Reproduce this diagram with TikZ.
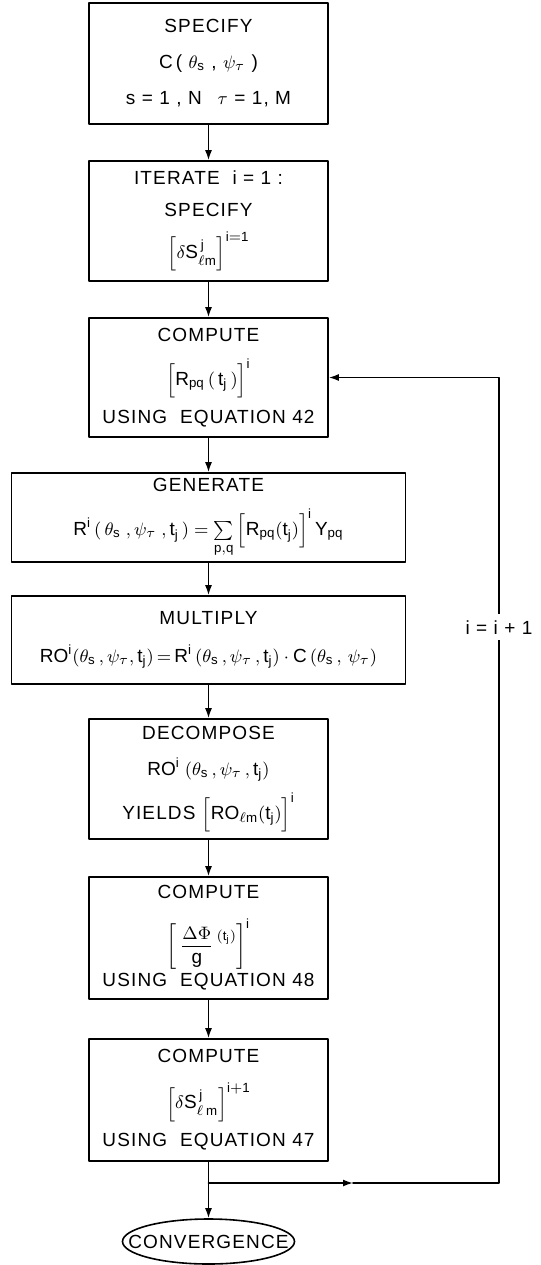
\documentclass[tikz,border=0pt]{standalone}
\usepackage{amsmath,amssymb}
\usepackage{fontspec}
\setmainfont{Liberation Sans}[LetterSpace=6]
\usepackage{tikz}
\usetikzlibrary{arrows.meta,shapes.geometric}

\begin{document}
\begin{tikzpicture}[line cap=round,line join=round,>={Latex[length=5pt,width=3.5pt]},x=0.5pt,y=-0.5pt,line width=0.8pt,
        every node/.style={font=\fontsize{9.5}{18}\selectfont},
        box/.style={draw,align=center,minimum width=119.5pt,inner sep=0pt},
        widebox/.style={box,minimum width=197pt}]
        \useasboundingbox (0,0) rectangle (541,1265);
        \node[box,minimum height=60.5pt] (b1) at (208.5,63.5) {SPECIFY\\
            C\,( $\theta_{\mathrm{s}}$ , $\psi_{\tau}$ )\\
            s = 1 , N \enspace $\tau$ = 1, M};
        \node[box,minimum height=60pt] (b2) at (208.5,221) {ITERATE \ i = 1 :\\[-2pt]
            SPECIFY\\[3pt]
            $\Big[\delta\mathrm{S}^{\,\mathrm{j}}_{\ell\mathrm{m}}\Big]^{\mathrm{i=1}}$};
        \node[box,minimum height=59.5pt] (b3) at (208.5,377.5) {COMPUTE\\[4pt]
            $\Big[\mathrm{R}_{\mathrm{pq}}\,(\,\mathrm{t}_{\mathrm{j}}\,)\Big]^{\mathrm{i}}$\\[1pt]
            USING \ EQUATION 42};
        \node[widebox,minimum height=44.5pt] (b4) at (208.5,517.5) {GENERATE\\[4pt]
            $\mathrm{R}^{\mathrm{i}}\,(\,\theta_{\mathrm{s}}\;,\psi_{\tau}\;,\mathrm{t}_{\mathrm{j}}\,) = \sum\limits_{\mathrm{p,q}}\Big[\mathrm{R}_{\mathrm{pq}}(\mathrm{t}_{\mathrm{j}})\Big]^{\mathrm{i}}\,\mathrm{Y}_{\mathrm{pq}}$};
        \node[widebox,minimum height=44pt] (b5) at (208.5,640) {MULTIPLY\\[1pt]
            $\mathrm{RO}^{\mathrm{i}}(\theta_{\mathrm{s}}\,,\psi_{\tau},\mathrm{t}_{\mathrm{j}})\,{=}\,\mathrm{R}^{\mathrm{i}}\,(\theta_{\mathrm{s}}\,,\psi_{\tau}\,,\mathrm{t}_{\mathrm{j}})\cdot\mathrm{C}\,(\theta_{\mathrm{s}}\,,\,\psi_{\tau})$};
        \node[box,minimum height=60pt] (b6) at (208.5,779) {DECOMPOSE\\
            $\mathrm{RO}^{\mathrm{i}}\;(\theta_{\mathrm{s}}\,,\psi_{\tau}\,,\mathrm{t}_{\mathrm{j}})$\\[4pt]
            YIELDS $\Big[\mathrm{RO}_{\ell\mathrm{m}}(\mathrm{t}_{\mathrm{j}})\Big]^{\mathrm{i}}$};
        \node[box,minimum height=61pt] (b7) at (208.5,938) {COMPUTE\\[8pt]
            $\bigg[\,\dfrac{\Delta\Phi}{\mathrm{g}}\,\raisebox{5pt}{$\scriptstyle(\mathrm{t}_{\mathrm{j}})$}\bigg]^{\mathrm{i}}$\\[0pt]
            USING \ EQUATION 48};
        \node[box,minimum height=61pt] (b8) at (208.5,1100) {COMPUTE\\[5pt]
            $\Big[\delta\mathrm{S}^{\,\mathrm{j}}_{\ell\,\mathrm{m}}\Big]^{\mathrm{i+1}}$\\[1pt]
            USING \ EQUATION 47};
        \node[draw,ellipse,minimum width=86pt,minimum height=22.5pt,inner sep=0pt,label=center:CONVERGENCE] (conv) at (208.5,1241.5) {};
        \coordinate (jn) at (208.5,1183);
        \coordinate (mid) at (353,1183);
        \coordinate (rb) at (499,1183);
        \draw [->] (b1) -- (b2);
        \draw [->] (b2) -- (b3);
        \draw [->] (b3) -- (b4);
        \draw [->] (b4) -- (b5);
        \draw [->] (b5) -- (b6);
        \draw [->] (b6) -- (b7);
        \draw [->] (b7) -- (b8);
        \draw [->] (b8) -- (conv);
        \draw [->] (jn) -- (mid);
        \draw [->] (mid) -- (rb) -- node[pos=0.69,fill=white,inner sep=3pt] {i = i + 1} (rb |- b3.east) -- (b3.east);
    \end{tikzpicture}
\end{document}
